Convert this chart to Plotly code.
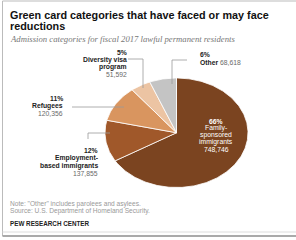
import numpy as np
import plotly.graph_objects as go

# ---- data ----
categories = ["Family-|sponsored|immigrants", "Employment-|based immigrants", "Refugees", "Diversity visa|program", "Other"]
values = [748746, 137855, 120356, 51592, 68618]
colors = ["#7b4420", "#a0582a", "#d9955f", "#ecc4a3", "#c4c4c4"]

W, H = 296, 240
def px(x): return x / W
def py(y): return 1 - y / H

total = sum(values)
pcts = [round(v / total * 100) for v in values]

fig = go.Figure()

# pie drawn as filled ellipse wedges (axes stretch unit circle into ellipse)
start = 0.0
for v, c in zip(values, colors):
    frac = v / total
    a0, a1 = start, start + frac
    t = np.linspace(a0, a1, max(int(frac * 360), 2) + 1) * 2 * np.pi
    xs = np.concatenate([[0], np.sin(t), [0]])
    ys = np.concatenate([[0], np.cos(t), [0]])
    fig.add_trace(go.Scatter(x=xs, y=ys, fill="toself", fillcolor=c, mode="lines",
                             line=dict(color="white", width=0.8), hoverinfo="skip", showlegend=False))
    start = a1

fig.update_xaxes(domain=[px(105), px(248)], range=[-1, 1], visible=False, fixedrange=True)
fig.update_yaxes(domain=[py(187.5), py(78)], range=[-1, 1], visible=False, fixedrange=True)

def fmt(v): return f"{v:,}"

ann = []
FONT = "Liberation Sans, Arial, sans-serif"
num_col = "#6a6a6a"

def block(lines, x, y0, dy, anchor, size=6.8, color="#222"):
    for i, t in enumerate(lines):
        ann.append(dict(x=px(x), y=py(y0 + i * dy), xanchor=anchor, yanchor="middle",
                        text=t, font=dict(family=FONT, size=size, color=color)))

def label_lines(i):
    return ([f"<b>{pcts[i]}%</b>"] + [f"<b>{s}</b>" for s in categories[i].split("|")]
            + [f"<span style='color:{num_col}'>{fmt(values[i])}</span>"])

# Family (inside)
block([f"<b>{pcts[0]}%</b>"] + categories[0].split("|") + [fmt(values[0])],
      216, 121, 7.1, "center", color="white")
# Employment
block(label_lines(1), 98.5, 150.5, 7.5, "right")
# Refugees
block(label_lines(2), 64, 98.5, 7.5, "right")
# Diversity
block(label_lines(3), 127.5, 52.5, 7.3, "right")
# Other
block([f"<b>{pcts[4]}%</b>",
       f"<b>{categories[4]}</b> <span style='color:{num_col}'>{fmt(values[4])}</span>"],
      199, 55, 8, "left")

# title / subtitle / notes
block(["<b>Green card categories that have faced or may face</b>", "<b>reductions</b>"],
      9, 15.5, 11, "left", size=10.8, color="#111")
ann.append(dict(x=px(9), y=py(38.5), xanchor="left", yanchor="middle",
                text="<i>Admission categories for fiscal 2017 lawful permanent residents</i>",
                font=dict(family="Liberation Serif, serif", size=8.7, color="#777")))
block(["Note: \"Other\" includes parolees and asylees.", "Source: U.S. Department of Homeland Security."],
      9, 203.5, 7, "left", size=6.6, color="#999")
block(["<b>PEW RESEARCH CENTER</b>"], 9, 223, 7, "left", size=6.3, color="#222")
for a in ann:
    a.update(xref="paper", yref="paper", showarrow=False, borderpad=0)

lc = dict(color="#999", width=0.8)
shapes = []
def seg(x0, y0, x1, y1, line=lc):
    shapes.append(dict(type="line", xref="paper", yref="paper",
                       x0=px(x0), y0=py(y0), x1=px(x1), y1=py(y1), line=line))
# leaders
seg(128, 59, 143, 59); seg(143, 59, 143, 88)
seg(172, 60, 187, 60); seg(172, 60, 172, 84)
seg(72, 107, 124, 107)
seg(88, 139, 88, 133); seg(88, 133, 110, 133)
# frame
seg(2.5, 1, 2.5, 236, dict(color="#bbb", width=1))
seg(2.5, 1, 296, 1, dict(color="#bbb", width=1))
seg(2.5, 232, 296, 232, dict(color="#ddd", width=1))
seg(2.5, 236, 296, 236, dict(color="#aaa", width=2))

fig.update_layout(width=W, height=H, margin=dict(l=0, r=0, t=0, b=0),
                  paper_bgcolor="white", plot_bgcolor="white",
                  annotations=ann, shapes=shapes, showlegend=False)
fig.write_html("out.html", config={"displayModeBar": False},
               post_script="document.body.style.margin='0';document.body.style.padding='0';")
